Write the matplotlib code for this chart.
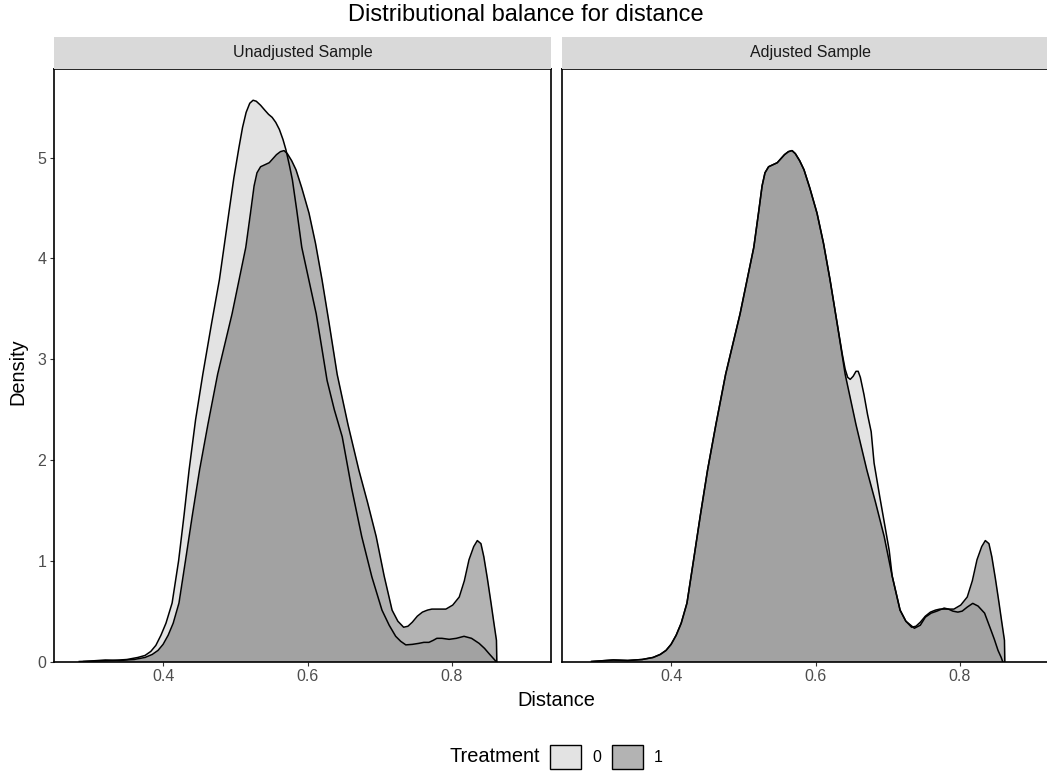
import matplotlib
matplotlib.use('Agg')
import matplotlib.pyplot as plt
from matplotlib.patches import Patch

plt.rcParams['font.family'] = ['Liberation Sans', 'DejaVu Sans']

# treated group (same in both panels)
treat_x = [0.29, 0.32, 0.34, 0.36, 0.375, 0.385, 0.393, 0.400, 0.407, 0.414, 0.422, 0.431,
           0.4405, 0.4505, 0.462, 0.4755, 0.4955, 0.5145, 0.521, 0.526, 0.530, 0.535, 0.541,
           0.547, 0.552, 0.557, 0.5625, 0.5675, 0.572, 0.578, 0.584, 0.592, 0.602, 0.611,
           0.620, 0.630, 0.641, 0.656, 0.671, 0.683, 0.695, 0.706, 0.717, 0.725, 0.733,
           0.739, 0.745, 0.752, 0.759, 0.766, 0.772, 0.782, 0.7915, 0.801, 0.810, 0.817,
           0.8235, 0.830, 0.835, 0.840, 0.844, 0.849, 0.854, 0.858, 0.8615, 0.862]
treat_y = [0.0, 0.015, 0.01, 0.02, 0.04, 0.07, 0.11, 0.17, 0.26, 0.38, 0.58, 1.0,
           1.45, 1.9, 2.35, 2.85, 3.45, 4.11, 4.45, 4.72, 4.85, 4.91, 4.93,
           4.95, 4.99, 5.03, 5.06, 5.07, 5.04, 4.97, 4.88, 4.70, 4.45, 4.15,
           3.79, 3.35, 2.85, 2.35, 1.90, 1.58, 1.24, 0.85, 0.51, 0.40, 0.34,
           0.35, 0.39, 0.45, 0.49, 0.51, 0.52, 0.52, 0.52, 0.56, 0.64, 0.80,
           1.01, 1.14, 1.20, 1.17, 1.04, 0.82, 0.58, 0.38, 0.21, 0.0]

# control group, unadjusted
ctrl_x = [0.284, 0.31, 0.33, 0.35, 0.365, 0.375, 0.383, 0.390, 0.397, 0.404, 0.4125, 0.4215,
          0.429, 0.436, 0.445, 0.455, 0.467, 0.478, 0.491, 0.498, 0.505, 0.510, 0.515,
          0.520, 0.5246, 0.529, 0.535, 0.541, 0.546, 0.551, 0.556, 0.561, 0.566, 0.570,
          0.575, 0.579, 0.585, 0.592, 0.602, 0.612, 0.620, 0.627, 0.637, 0.648, 0.661,
          0.675, 0.689, 0.703, 0.713, 0.722, 0.729, 0.736, 0.745, 0.754, 0.761, 0.768,
          0.774, 0.779, 0.786, 0.796, 0.806, 0.8166, 0.827, 0.8375, 0.845, 0.851, 0.856,
          0.861]
ctrl_y = [0.0, 0.005, 0.01, 0.02, 0.04, 0.06, 0.10, 0.16, 0.26, 0.38, 0.58, 1.0,
          1.45, 1.9, 2.4, 2.85, 3.35, 3.79, 4.45, 4.8, 5.10, 5.3, 5.45,
          5.54, 5.57, 5.56, 5.52, 5.47, 5.43, 5.40, 5.35, 5.28, 5.18, 5.08,
          4.92, 4.78, 4.48, 4.11, 3.78, 3.45, 3.1, 2.79, 2.5, 2.23, 1.72,
          1.24, 0.84, 0.51, 0.36, 0.25, 0.2, 0.165, 0.17, 0.18, 0.19, 0.19,
          0.21, 0.23, 0.23, 0.22, 0.23, 0.25, 0.23, 0.18, 0.13, 0.08, 0.04,
          0.0]

# control group, adjusted
adj_x = [0.29, 0.32, 0.34, 0.36, 0.375, 0.385, 0.393, 0.400, 0.407, 0.414, 0.422, 0.431,
         0.4405, 0.4505, 0.462, 0.4755, 0.4955, 0.5145, 0.521, 0.526, 0.530, 0.535, 0.541,
         0.547, 0.552, 0.557, 0.5625, 0.5675, 0.572, 0.578, 0.584, 0.592, 0.602, 0.611,
         0.620, 0.630, 0.637, 0.641, 0.6445, 0.648, 0.652, 0.656, 0.659, 0.662, 0.667,
         0.672, 0.677, 0.681, 0.689, 0.6976, 0.702, 0.706, 0.717, 0.725, 0.7368, 0.745,
         0.752, 0.760, 0.768, 0.778, 0.784, 0.790, 0.797, 0.803, 0.810, 0.8176, 0.825,
         0.834, 0.8434, 0.8475, 0.8526, 0.857, 0.859]
adj_y = [0.0, 0.015, 0.01, 0.02, 0.04, 0.07, 0.11, 0.17, 0.26, 0.38, 0.58, 1.0,
         1.45, 1.9, 2.35, 2.85, 3.45, 4.11, 4.45, 4.72, 4.85, 4.91, 4.93,
         4.95, 4.99, 5.03, 5.06, 5.07, 5.04, 4.97, 4.88, 4.70, 4.45, 4.15,
         3.79, 3.35, 3.05, 2.90, 2.82, 2.80, 2.83, 2.88, 2.88, 2.82, 2.65,
         2.45, 2.28, 1.97, 1.63, 1.28, 1.10, 0.85, 0.51, 0.40, 0.33, 0.36,
         0.44, 0.48, 0.50, 0.53, 0.52, 0.50, 0.49, 0.50, 0.54, 0.577, 0.55,
         0.48, 0.30, 0.22, 0.11, 0.04, 0.0]

panel_titles = ['Unadjusted Sample', 'Adjusted Sample']
panel_curves = [[(ctrl_x, ctrl_y), (treat_x, treat_y)],
                [(adj_x, adj_y), (treat_x, treat_y)]]
treat_labels = ['0', '1']
fill_cols = ['#B9B9B9', '#414141']

W, H = 1047, 777
fig = plt.figure(figsize=(W / 100, H / 100), dpi=100)


def box(x0, y0, x1, y1):
    return [x0 / W, 1 - y1 / H, (x1 - x0) / W, (y1 - y0) / H]


lefts = [54, 562]
for i, left in enumerate(lefts):
    ax = fig.add_axes(box(left, 69, left + 497, 661.5))
    for (xs, ys), col in zip(panel_curves[i], fill_cols):
        ax.fill_between(xs, ys, 0, color=col, alpha=0.4, lw=0)
        ax.plot(xs, ys, color='black', lw=1.1)
    ax.set_xlim(0.249, 0.937)
    ax.set_ylim(0, 5.88)
    ax.set_xticks([0.4, 0.6, 0.8])
    ax.set_xticklabels(['0.4', '0.6', '0.8'])
    ax.set_yticks([0, 1, 2, 3, 4, 5])
    for s in ax.spines.values():
        s.set_color('black')
        s.set_linewidth(1.2)
    ax.tick_params(direction='out', length=3, width=0.8, color='#333333',
                   labelcolor='#4D4D4D', labelsize=11.5, pad=2.5)
    if i > 0:
        ax.tick_params(axis='y', left=False, labelleft=False)

    st = fig.add_axes(box(left, 37, left + 497, 69))
    st.set_facecolor('#D9D9D9')
    st.set_xticks([])
    st.set_yticks([])
    for s in st.spines.values():
        s.set_visible(False)
    st.text(0.5, 0.5, panel_titles[i], ha='center', va='center',
            fontsize=11.5, color='#1A1A1A', transform=st.transAxes)

fig.text(526 / W, 1 - 15 / H, 'Distributional balance for distance',
         ha='center', va='center', fontsize=17)
fig.text(556 / W, 1 - 700 / H, 'Distance', ha='center', va='center', fontsize=14.4)
fig.text(18 / W, 1 - 372 / H, 'Density', ha='center', va='center',
         rotation=90, fontsize=14.4)

# legend
fig.text(450 / W, 1 - 757 / H, 'Treatment', ha='left', va='center', fontsize=14.4)
handles = [Patch(facecolor='#E3E3E3', edgecolor='black', lw=1),
           Patch(facecolor='#B3B3B3', edgecolor='black', lw=1)]
fig.legend(handles, treat_labels, ncol=2, frameon=False, loc='center left',
           bbox_to_anchor=(550 / W, 1 - 757 / H), fontsize=11.5,
           handlelength=1.94, handleheight=1.94, handletextpad=0.7,
           columnspacing=0.67, borderpad=0, borderaxespad=0)

fig.savefig('out.png', dpi=100)
